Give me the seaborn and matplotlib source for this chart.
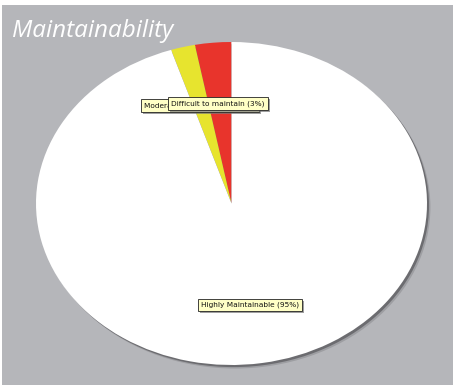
import matplotlib
matplotlib.use("Agg")
import matplotlib.pyplot as plt
import matplotlib.patheffects as pe
import seaborn as sns
from matplotlib.patches import Ellipse, Rectangle

sns.set_theme(style="white")
plt.rcParams['font.family'] = ['DejaVu Sans']

# Data
categories = ["Difficult to maintain", "Moderately Maintainable", "Highly Maintainable"]
values = [3, 2, 95]
colors = ["#e8342c", "#e7e42e", "#ffffff"]
title = "Maintainability"

W, H = 457, 390
fig = plt.figure(figsize=(W / 100, H / 100), dpi=100)
fig.patch.set_facecolor("white")

# gray panel
bg = Rectangle((2 / W, 5 / H), 451 / W, 380 / H, transform=fig.transFigure,
               facecolor="#b5b6ba", edgecolor="none", zorder=-10)
fig.add_artist(bg)

ax = fig.add_axes([36 / W, 25 / H, 391 / W, 323 / H])
ax.set_zorder(1)
ax.set_facecolor("none")
ax.patch.set_alpha(0)

# soft shadow behind the ellipse
for off, col, a in [(0.022, "#8e8e92", 0.6), (0.013, "#6c6c70", 1.0)]:
    ax.add_patch(Ellipse((off * 0.8, -off * 1.0), 2, 2, facecolor=col, edgecolor="none",
                         alpha=a, zorder=0, clip_on=False))

wedges, _ = ax.pie(values, colors=colors, startangle=90, counterclock=True,
                   wedgeprops=dict(linewidth=0), radius=1, frame=False)
for w in wedges:
    w.set_zorder(2)
ax.set_aspect("auto")
ax.set_xlim(-1, 1)
ax.set_ylim(-1, 1)
ax.axis("off")

labels = [f"{c} ({v}%)" for c, v in zip(categories, values)]
positions = {1: (0.277, 0.803), 0: (0.346, 0.810), 2: (0.421, 0.186)}
zorders = {1: 5, 0: 6, 2: 5}
for i in [1, 0, 2]:
    x, y = positions[i]
    t = ax.text(x, y, labels[i], transform=ax.transAxes, fontsize=5.3, ha="left", va="center",
                color="#111111", zorder=zorders[i],
                bbox=dict(boxstyle="square,pad=0.4", facecolor="#ffffc6",
                          edgecolor="#222222", linewidth=0.6))
    t.get_bbox_patch().set_path_effects([
        pe.SimplePatchShadow(offset=(1.5, -1.5), shadow_rgbFace="#777777", alpha=0.7),
        pe.Normal()])

fig.text(12 / W, 1 - 31 / H, title, fontsize=17.5, style="italic", color="white",
         family=["Open Sans", "DejaVu Sans"], ha="left", va="center")

fig.savefig("out.png", dpi=100, facecolor=fig.get_facecolor())
